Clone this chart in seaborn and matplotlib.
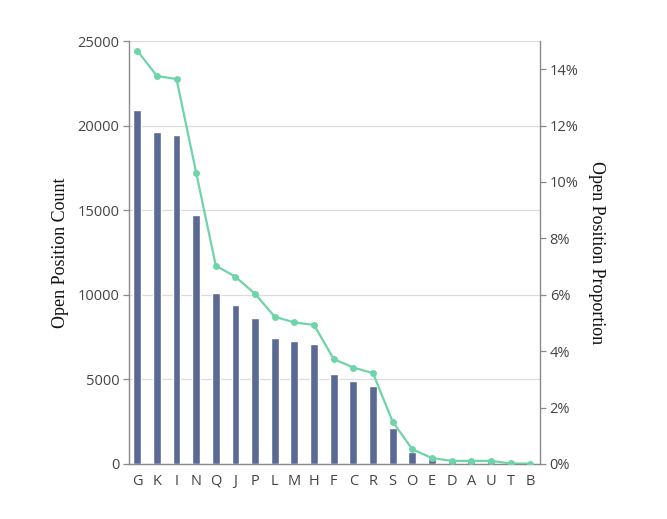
import seaborn as sns
import matplotlib.pyplot as plt
import pandas as pd
from matplotlib.ticker import FuncFormatter

categories = ['G', 'K', 'I', 'N', 'Q', 'J', 'P', 'L', 'M', 'H', 'F',
              'C', 'R', 'S', 'O', 'E', 'D', 'A', 'U', 'T', 'B']
counts = [20950, 19600, 19450, 14730, 10100, 9420, 8600, 7460, 7250, 7110, 5330,
          4900, 4600, 2110, 720, 300, 150, 150, 150, 30, 15]
proportions = [0.1466, 0.1376, 0.1365, 0.1033, 0.0703, 0.0664, 0.0603, 0.0522, 0.0502,
               0.0493, 0.0372, 0.0342, 0.0322, 0.0150, 0.0052, 0.0021, 0.0011, 0.0011,
               0.0011, 0.0002, 0.0001]

df = pd.DataFrame({'cat': categories, 'count': counts, 'prop': proportions})

sns.set_style('white')
plt.rcParams['font.family'] = ['Open Sans', 'DejaVu Sans']

bar_color = '#5a6a94'
line_color = '#6fd4a7'
axis_color = '#8a8a8a'
tick_color = '#444444'

fig = plt.figure(figsize=(6.67, 5.19), dpi=100)
ax = fig.add_axes([0.1934, 0.106, 0.6162, 0.815])

sns.barplot(data=df, x='cat', y='count', color=bar_color, width=0.4,
            saturation=1, ax=ax, zorder=2)
ax.set_ylim(0, 25000)
ax.set_yticks(range(0, 25001, 5000))
ax.set_xlim(-0.42, 20.5)
ax.yaxis.grid(True, color='#dcdcdc', linewidth=0.9, zorder=0)
ax.set_axisbelow(True)
ax.set_xlabel('')
ax.set_ylabel('Open Position Count', family='Liberation Serif', fontsize=13,
              color='#111111', labelpad=6)

ax2 = ax.twinx()
sns.lineplot(data=df, x='cat', y='prop', color=line_color, marker='o',
             markersize=5, markeredgewidth=0, linewidth=1.6, ax=ax2, zorder=3)
ax2.set_ylim(0, 0.15)
ax2.set_yticks([0, 0.02, 0.04, 0.06, 0.08, 0.10, 0.12, 0.14])
ax2.yaxis.set_major_formatter(FuncFormatter(lambda v, p: f'{v * 100:.0f}%'))
ax2.set_xlim(-0.42, 20.5)
ax2.set_xlabel('')
ax2.set_ylabel('Open Position Proportion', family='Liberation Serif', fontsize=13,
               color='#111111', rotation=270, labelpad=19)

for a in (ax, ax2):
    a.spines['top'].set_visible(False)
    for side in ('left', 'right', 'bottom'):
        a.spines[side].set_color(axis_color)
        a.spines[side].set_linewidth(1.0)
    a.tick_params(axis='both', which='major', length=4, width=0.9, color=axis_color,
                  labelsize=10.5, labelcolor=tick_color, pad=3)

ax.spines['right'].set_visible(False)
ax2.spines['left'].set_visible(False)
ax2.spines['bottom'].set_visible(False)

fig.savefig('out.png', dpi=100)
